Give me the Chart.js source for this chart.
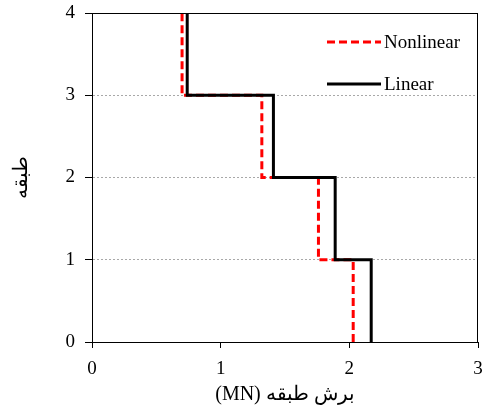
<!DOCTYPE html>
<html><head><meta charset="utf-8">
<script src="https://cdn.jsdelivr.net/npm/chart.js@4"></script>
<style>html,body{margin:0;padding:0;background:#fff;}canvas{display:block;}</style>
</head><body>
<canvas id="c" width="489" height="414"></canvas>
<script>
const storyLevels = [0, 1, 2, 3, 4];
const nonlinearShear = [2.03, 1.76, 1.32, 0.70];
const linearShear = [2.17, 1.89, 1.41, 0.74];
const seriesNames = ['Nonlinear', 'Linear'];
const xTitle = 'برش طبقه (MN)';
const yTitle = 'طبقه';

function stepPoints(v) {
  const pts = [];
  for (let i = 0; i < v.length; i++) {
    pts.push({x: v[i], y: storyLevels[i]});
    pts.push({x: v[i], y: storyLevels[i + 1]});
  }
  return pts;
}

const serif = "'Liberation Serif','Times New Roman',serif";

const legendPlugin = {
  id: 'inLegend',
  afterDatasetsDraw(chart) {
    const ctx = chart.ctx;
    const ca = chart.chartArea;
    ctx.save();
    ctx.strokeStyle = '#000';
    ctx.lineWidth = 1;
    ctx.strokeRect(ca.left + 0.5, ca.top + 0.5, ca.right - ca.left - 1, ca.bottom - ca.top);
    const items = [{ds: chart.data.datasets[0], y: 42}, {ds: chart.data.datasets[1], y: 84}];
    items.forEach(it => {
      ctx.beginPath();
      ctx.strokeStyle = it.ds.borderColor;
      ctx.lineWidth = it.ds.borderWidth;
      ctx.setLineDash(it.ds.borderDash || []);
      ctx.moveTo(327, it.y);
      ctx.lineTo(381, it.y);
      ctx.stroke();
      ctx.setLineDash([]);
      ctx.fillStyle = '#000';
      ctx.font = '19px ' + serif;
      ctx.textBaseline = 'middle';
      ctx.textAlign = 'left';
      ctx.fillText(it.ds.label, 384, it.y + 1);
    });
    // axis titles (RTL text)
    ctx.fillStyle = '#000';
    ctx.font = '20px ' + serif;
    ctx.direction = 'rtl';
    ctx.textAlign = 'center';
    ctx.textBaseline = 'middle';
    ctx.fillText(xTitle, (ca.left + ca.right) / 2, 395);
    ctx.save();
    ctx.translate(22, (ca.top + ca.bottom) / 2);
    ctx.rotate(-Math.PI / 2);
    ctx.fillText(yTitle, 0, 0);
    ctx.restore();
    ctx.restore();
  }
};

new Chart(document.getElementById('c'), {
  type: 'scatter',
  data: {
    datasets: [
      {label: seriesNames[0], data: stepPoints(nonlinearShear), showLine: true, borderColor: '#ff0000', borderWidth: 3, borderDash: [8, 4], pointRadius: 0, order: 1, borderCapStyle: 'butt'},
      {label: seriesNames[1], data: stepPoints(linearShear), showLine: true, borderColor: '#000000', borderWidth: 3, pointRadius: 0, order: 0}
    ]
  },
  options: {
    responsive: false,
    animation: false,
    layout: {padding: {left: 0, right: 11, top: 13, bottom: 0}},
    plugins: {legend: {display: false}, tooltip: {enabled: false}},
    scales: {
      x: {
        type: 'linear', min: 0, max: 3,
        ticks: {stepSize: 1, color: '#000', font: {family: serif, size: 19}, padding: 10},
        grid: {drawOnChartArea: false, tickLength: 6, tickColor: '#000'},
        border: {display: true, color: '#000', width: 1},
        afterFit(s) { s.height = 72; s.paddingLeft = 0; s.paddingRight = 0; }
      },
      y: {
        type: 'linear', min: 0, max: 4,
        ticks: {stepSize: 1, color: '#000', font: {family: serif, size: 19}, padding: 10},
        grid: {
          tickLength: 7, tickColor: '#000', lineWidth: 1,
          color: ctx => (ctx.tick && (ctx.tick.value === 0 || ctx.tick.value === 4)) ? 'rgba(0,0,0,0)' : '#a8a8a8'
        },
        border: {display: true, color: '#000', width: 1, dash: [2, 2]},
        afterFit(s) { s.width = 92; s.paddingTop = 0; s.paddingBottom = 0; }
      }
    }
  },
  plugins: [legendPlugin]
});
</script>
</body></html>
